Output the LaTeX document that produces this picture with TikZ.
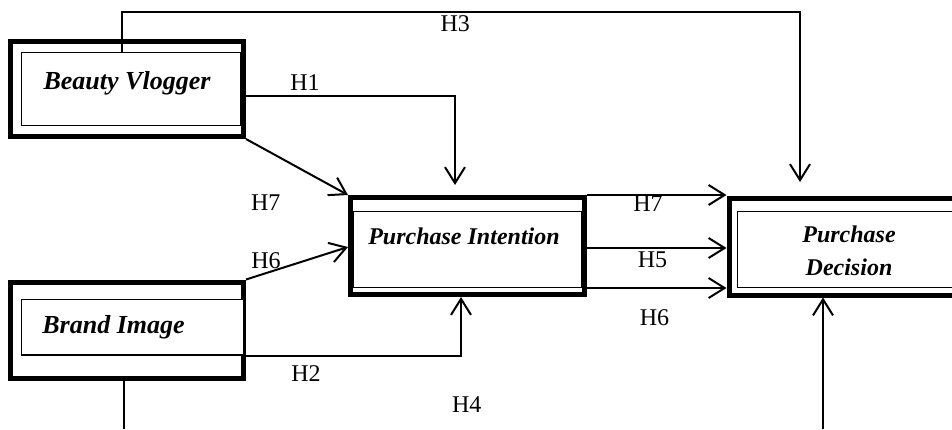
\documentclass[tikz,border=0pt]{standalone}
\usepackage{fontspec}
\setmainfont{Liberation Serif}
\usetikzlibrary{arrows.meta,fit}
\begin{document}
\begin{tikzpicture}[x=1pt,y=-1pt,
  outerbox/.style={draw, line width=5pt, inner sep=0pt, rectangle},
  innerbox/.style={draw, line width=1.3pt, inner sep=0pt, rectangle},
  conn/.style={draw, line width=2pt},
  arr/.style={conn, -{Straight Barb[length=16pt,width=20pt,line width=2pt]}},
  hlab/.style={font=\fontsize{24}{28}\selectfont, anchor=base, inner sep=0pt},
  vlab/.style={font=\fontsize{26}{30}\selectfont\bfseries\itshape, anchor=base, inner sep=0pt},
  plab/.style={font=\fontsize{24}{33}\selectfont\bfseries\itshape, inner sep=0pt, align=center}]
\useasboundingbox (0,0) rectangle (952,429);
% Beauty Vlogger
\node[outerbox, fit={(10,41) (243.5,136.5)}] (bvo) {};
\node[innerbox, fit={(21.7,52.7) (241,125.3)}] (bvi) {};
\node[vlab] (bvt) at (127,89) {Beauty Vlogger};
% Brand Image
\node[outerbox, fit={(10,282) (243.5,378.5)}] (bio) {};
\node[innerbox, fill=white, fit={(21.7,299.3) (243.3,355)}] (bii) {};
\node[vlab] (bit) at (113.5,333) {Brand Image};
% Purchase Intention
\node[outerbox, fit={(350.5,197.5) (584.5,294.5)}] (pio) {};
\node[innerbox, fit={(353,211.7) (582,287.7)}] (pii) {};
\node[vlab, font=\fontsize{24}{28}\selectfont\bfseries\itshape] (pit) at (464,244) {Purchase Intention};
% Purchase Decision
\node[outerbox, fit={(729,198.5) (990,295)}] (pdo) {};
\node[innerbox, fit={(737.3,211.7) (985,287.7)}] (pdi) {};
\node[plab] (pdt) at (849,251) {Purchase\\Decision};
% connectors
\coordinate (h3a) at (122,12);
\draw[arr, shorten >=14pt] (bvi.north -| h3a) -- (h3a) -| (pdo.north -| 800,0);
\draw[arr, shorten >=10pt] (bvo.east |- 0,96) -| (pio.north -| 455,0);
\draw[arr] (bvo.south east) -- (pio.north west);
\draw[arr] (bio.north east) -- (pio.west |- 0,247);
\draw[arr] (bii.south east) -| (pio.south -| 461,0);
\coordinate (h4a) at (124,429);
\coordinate (h4b) at (823,429);
\draw[conn] (bio.south -| h4a) -- (h4a);
\draw[arr] (h4b) -- (pdo.south -| h4b);
\draw[arr] (pio.east |- 0,195) -- (pdo.west |- 0,195);
\draw[arr] (pio.east |- 0,248) -- (pdo.west |- 0,248);
\draw[arr] (pio.east |- 0,288) -- (pdo.west |- 0,288);
% labels
\node[hlab] (l3) at (455.3,31.7) {H3};
\node[hlab] (l1) at (305,90.7) {H1};
\node[hlab] (l7a) at (265.7,210.7) {H7};
\node[hlab] (l6a) at (266,268.3) {H6};
\node[hlab] (l2) at (306,381.7) {H2};
\node[hlab] (l4) at (466.7,412.7) {H4};
\node[hlab] (l7b) at (648,211.7) {H7};
\node[hlab] (l5) at (652.5,267.3) {H5};
\node[hlab] (l6b) at (654.5,325) {H6};
\end{tikzpicture}
\end{document}
